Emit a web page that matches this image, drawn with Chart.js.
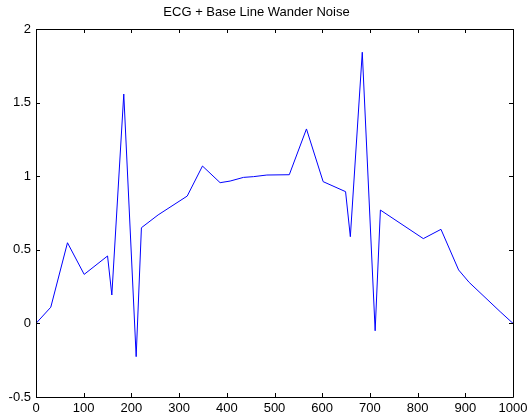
<!DOCTYPE html>
<html>
<head>
<meta charset="utf-8">
<script src="https://cdn.jsdelivr.net/npm/chart.js@4.4.1/dist/chart.umd.min.js"></script>
<style>
  html, body { margin: 0; padding: 0; background: #ffffff; }
  #wrap { width: 529px; height: 420px; }
</style>
</head>
<body>
<div id="wrap"><canvas id="c" width="529" height="420"></canvas></div>
<script>
// Sample index and amplitude of the noisy ECG trace
const sampleIndex = [0, 31, 66, 101, 150, 159, 184, 210, 221, 256, 317, 349, 386, 407, 435, 456, 484, 531, 567, 602, 649, 659, 684, 711, 722, 812, 849, 886, 908, 973, 1000];
const amplitude   = [0, 0.11, 0.548, 0.333, 0.458, 0.193, 1.558, -0.226, 0.65, 0.737, 0.865, 1.069, 0.956, 0.967, 0.992, 0.997, 1.008, 1.01, 1.321, 0.963, 0.895, 0.589, 1.842, -0.05, 0.77, 0.576, 0.639, 0.363, 0.279, 0.08, 0];

// Axis tick values
const xTicks = [0, 100, 200, 300, 400, 500, 600, 700, 800, 900, 1000];
const yTicks = [-0.5, 0, 0.5, 1, 1.5, 2];

const titleText = 'ECG + Base Line Wander Noise';
const FONT = 'Arial, "Liberation Sans", Helvetica, sans-serif';

const points = sampleIndex.map((x, i) => ({ x: x, y: amplitude[i] }));

// Box around the axes with inward-pointing tick marks on all four sides
const boxPlugin = {
  id: 'boxTicks',
  afterDraw(chart) {
    const { ctx, chartArea: a, scales } = chart;
    const L = 4;
    ctx.save();
    ctx.strokeStyle = '#000000';
    ctx.lineWidth = 1;
    ctx.beginPath();
    ctx.rect(Math.round(a.left) + 0.5, Math.round(a.top) + 0.5,
             Math.round(a.right - a.left), Math.round(a.bottom - a.top));
    ctx.stroke();
    ctx.beginPath();
    xTicks.forEach(v => {
      const px = Math.round(scales.x.getPixelForValue(v)) + 0.5;
      ctx.moveTo(px, a.bottom); ctx.lineTo(px, a.bottom - L);
      ctx.moveTo(px, a.top); ctx.lineTo(px, a.top + L);
    });
    yTicks.forEach(v => {
      const py = Math.round(scales.y.getPixelForValue(v)) + 0.5;
      ctx.moveTo(a.left, py); ctx.lineTo(a.left + L, py);
      ctx.moveTo(a.right, py); ctx.lineTo(a.right - L, py);
    });
    ctx.stroke();
    ctx.restore();
  }
};

new Chart(document.getElementById('c'), {
  type: 'line',
  data: {
    datasets: [{
      data: points,
      borderColor: '#0000ff',
      borderWidth: 1,
      pointRadius: 0,
      tension: 0,
      fill: false
    }]
  },
  options: {
    responsive: false,
    animation: false,
    layout: { padding: { left: 0, right: 16, top: 0, bottom: 0 } },
    plugins: {
      legend: { display: false },
      tooltip: { enabled: false },
      title: {
        display: true,
        text: titleText,
        color: '#000000',
        font: { family: FONT, size: 13, weight: 'normal', lineHeight: 1.2 },
        padding: { top: 5, bottom: 8.4 }
      }
    },
    scales: {
      x: {
        type: 'linear',
        min: 0, max: 1000,
        afterFit(s) { s.height = 23; s.paddingLeft = 0; s.paddingRight = 0; },
        afterBuildTicks(s) { s.ticks = xTicks.map(v => ({ value: v })); },
        grid: { display: false, drawTicks: false },
        border: { display: false },
        ticks: {
          color: '#000000', padding: 4, maxRotation: 0, autoSkip: false,
          font: { family: FONT, size: 13 },
          callback: v => String(v)
        }
      },
      y: {
        type: 'linear',
        min: -0.5, max: 2,
        afterFit(s) { s.width = 36; s.paddingTop = 0; s.paddingBottom = 0; },
        afterBuildTicks(s) { s.ticks = yTicks.map(v => ({ value: v })); },
        grid: { display: false, drawTicks: false },
        border: { display: false },
        ticks: {
          color: '#000000', padding: 5, autoSkip: false,
          font: { family: FONT, size: 13 },
          callback: v => String(v)
        }
      }
    }
  },
  plugins: [boxPlugin]
});
</script>
</body>
</html>
